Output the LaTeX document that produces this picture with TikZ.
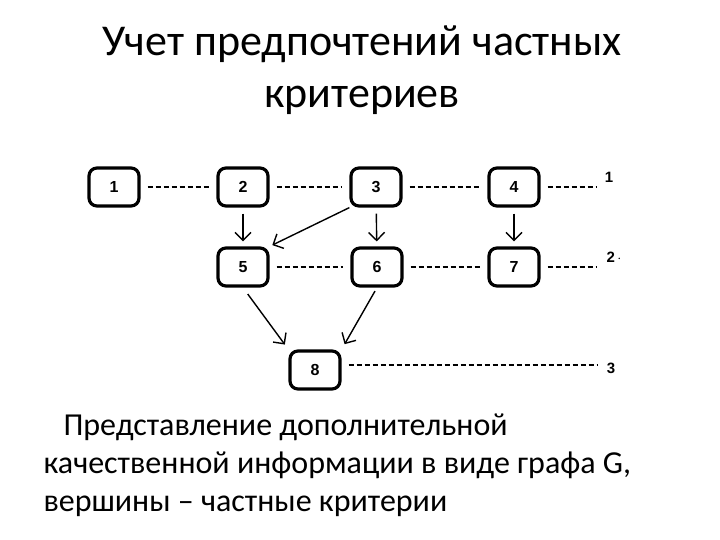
\documentclass[tikz,border=0pt]{standalone}
\usepackage{fontspec}
\setmainfont{Carlito}
\newfontfamily\numfont{Liberation Sans}
\usetikzlibrary{arrows.meta}

\tikzset{
  crit/.style={draw,line width=3.2pt,rounded corners=8pt,minimum width=50pt,
    minimum height=38pt,font=\numfont\bfseries\fontsize{16}{18}\selectfont},
  lvl/.style={font=\numfont\bfseries\fontsize{15}{17}\selectfont,inner sep=2pt},
  dash line/.style={dashed,line width=1.3pt,dash pattern=on 5pt off 3pt,shorten <=7pt,shorten >=7pt},
  pref/.style={->,line width=1.4pt}
}

\begin{document}
\begin{tikzpicture}[x=1pt,y=-1pt,>={Straight Barb[length=8pt,width=16pt]}]
  \useasboundingbox (0,0) rectangle (720,540);
  % title
  \node[font=\fontsize{44}{52}\selectfont,align=center] (title) at (362,70)
    {Учет предпочтений частных\\критериев};
  % level 1
  \node[crit] (b1) at (114,187) {1};
  \node[crit] (b2) at (243,187) {2};
  \node[crit] (b3) at (376,187) {3};
  \node[crit] (b4) at (514,187) {4};
  \node[lvl] (l1) at (609,177) {1};
  % level 2
  \node[crit] (b5) at (243,267) {5};
  \node[crit] (b6) at (377,267) {6};
  \node[crit] (b7) at (514,267) {7};
  \node[lvl] (l2) at (614,257) {2\,$\cdot$};
  % level 3
  \node[crit] (b8) at (315,370) {8};
  \node[lvl] (l3) at (611,368) {3};
  % dashed level lines
  \draw[dash line] (b1) -- (b2);
  \draw[dash line] (b2) -- (b3);
  \draw[dash line] (b3) -- (b4);
  \draw[dash line] (b4.east) -- (b4.east -| l1.west);
  \draw[dash line] (b5) -- (b6);
  \draw[dash line] (b6) -- (b7);
  \draw[dash line] (b7.east) -- (b7.east -| l2.west);
  \draw[dash line] ([yshift=5pt]b8.east) -- ([yshift=5pt]b8.east -| l3.west);
  % preferences
  \draw[pref,shorten <=6pt,shorten >=5pt] (b2) -- (b5);
  \draw[pref,shorten <=6pt,shorten >=5pt] (b3) -- (b6);
  \draw[pref,shorten <=6pt,shorten >=5pt] (b4) -- (b7);
  \draw[pref,shorten >=3pt] (b3.south west) -- (b5.north east);
  \draw[pref,shorten <=8pt,shorten >=6pt] (b5.south) -- (b8.north west);
  \draw[pref,shorten <=4pt,shorten >=6pt] (b6.south) -- (b8.north east);
  % caption
  \node[font=\fontsize{32}{38}\selectfont,align=left,anchor=north west] (cap) at (40,410)
    {\hspace*{20pt}Представление дополнительной\\качественной информации в виде графа G,\\вершины – частные критерии};
\end{tikzpicture}
\end{document}
